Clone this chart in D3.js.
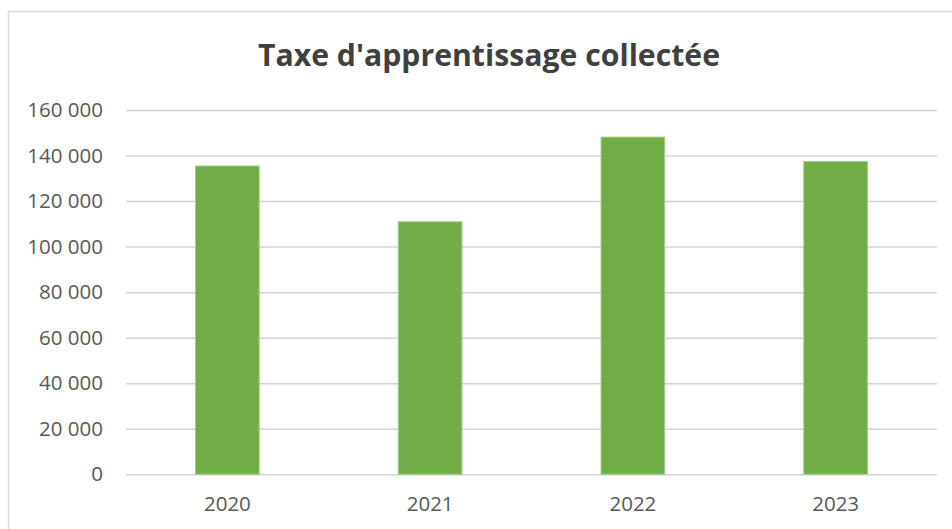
<!DOCTYPE html>
<html>
<head>
<meta charset="utf-8">
<script src="https://cdn.jsdelivr.net/npm/d3@7"></script>
<style>
  body { margin: 0; background: #fff; }
  svg { display: block; }
</style>
</head>
<body>
<svg></svg>
<script>
var years = ["2020", "2021", "2022", "2023"];
var amounts = [135400, 110900, 148100, 137400];
var yTicks = [0, 20000, 40000, 60000, 80000, 100000, 120000, 140000, 160000];
var title = "Taxe d'apprentissage collectée";

var width = 952;
var height = 529;
var plotLeft = 126, plotRight = 937, plotTop = 110, plotBottom = 474.3;

var svg = d3.select("svg")
    .attr("width", width)
    .attr("height", height);

// chart frame (right and bottom edges fall outside the picture)
svg.append("rect")
    .attr("x", 8.5)
    .attr("y", 11.5)
    .attr("width", 960)
    .attr("height", 540)
    .attr("fill", "none")
    .attr("stroke", "#d9d9d9")
    .attr("stroke-width", 1.5);

var xScale = d3.scaleBand()
    .domain(years)
    .range([plotLeft, plotRight])
    .paddingInner(0.686)
    .paddingOuter(0.343);

var yScale = d3.scaleLinear()
    .domain([0, 160000])
    .range([plotBottom, plotTop]);

var fmt = function(d) { return d3.format(",")(d).replace(/,/g, " "); };

var yAxis = d3.axisLeft(yScale)
    .tickValues(yTicks)
    .tickSize(-(plotRight - plotLeft))
    .tickPadding(23)
    .tickFormat(fmt);

svg.append("g")
    .attr("transform", "translate(" + plotLeft + ",0)")
    .call(yAxis)
    .call(g => g.select(".domain").remove())
    .call(g => g.selectAll(".tick line").attr("stroke", "#d3d3d3").attr("stroke-width", 1.5))
    .call(g => g.selectAll(".tick text")
        .attr("fill", "#595959")
        .attr("font-family", "'Open Sans', sans-serif")
        .attr("font-size", 20.5));

var xAxis = d3.axisBottom(xScale)
    .tickSize(0)
    .tickPadding(22);

svg.append("g")
    .attr("transform", "translate(0," + plotBottom + ")")
    .call(xAxis)
    .call(g => g.select(".domain").remove())
    .call(g => g.selectAll(".tick text")
        .attr("fill", "#595959")
        .attr("font-family", "'Open Sans', sans-serif")
        .attr("font-size", 20.5));

svg.append("g")
  .selectAll("rect")
  .data(amounts)
  .enter()
  .append("rect")
    .attr("x", (d, i) => xScale(years[i]))
    .attr("y", d => yScale(d))
    .attr("width", xScale.bandwidth())
    .attr("height", d => plotBottom - yScale(d))
    .attr("fill", "#70ad47")
    .attr("stroke", "#a3cc88")
    .attr("stroke-width", 1);

svg.append("text")
    .attr("x", 489)
    .attr("y", 66)
    .attr("text-anchor", "middle")
    .attr("font-family", "'Open Sans', sans-serif")
    .attr("font-weight", "bold")
    .attr("font-size", 31)
    .attr("fill", "#404040")
    .attr("textLength", 462)
    .attr("lengthAdjust", "spacingAndGlyphs")
    .text(title);
</script>
</body>
</html>
